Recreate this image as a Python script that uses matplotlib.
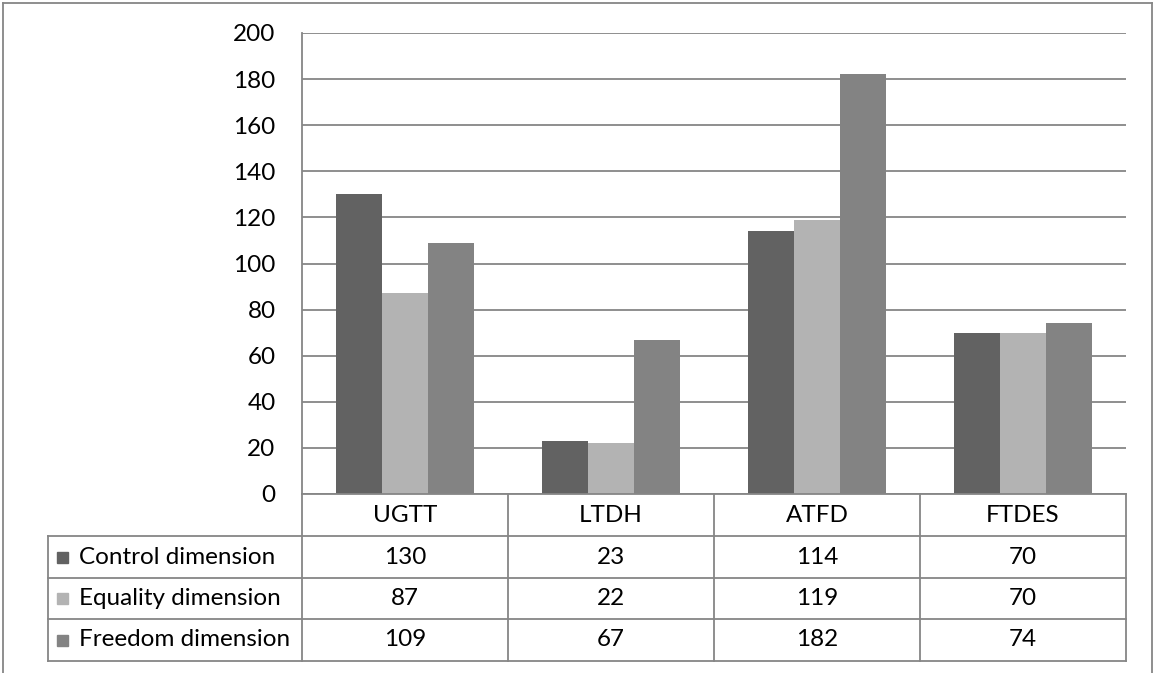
import matplotlib.pyplot as plt
from matplotlib.lines import Line2D
from matplotlib.patches import Rectangle
import numpy as np

# Données
categories = ['UGTT', 'LTDH', 'ATFD', 'FTDES']
series = ['Control dimension', 'Equality dimension', 'Freedom dimension']
control = [130, 23, 114, 70]
equality = [87, 22, 119, 70]
freedom = [109, 67, 182, 74]
couleurs = ['#626262', '#b3b3b3', '#838383']
gris = '#868686'

plt.rcParams['font.family'] = ['Lato', 'DejaVu Sans']
taille = 17.5

W, H = 1155, 673
fig = plt.figure(figsize=(W / 100, H / 100), dpi=100)

# Zone du graphique (en pixels)
x0, x1, ytop, ybot = 302, 1126, 33, 494
ax = fig.add_axes([x0 / W, 1 - ybot / H, (x1 - x0) / W, (ybot - ytop) / H])

valeurs = [control, equality, freedom]
x = np.arange(len(categories))
largeur = 1 / 4.5
for i, (v, c) in enumerate(zip(valeurs, couleurs)):
    ax.bar(x + (i - 1) * largeur, v, largeur, color=c, zorder=3)

ax.set_xlim(-0.5, len(categories) - 0.5)
ax.set_ylim(0, 200)
ax.set_yticks(np.arange(0, 201, 20))
ax.yaxis.grid(True, color=gris, linewidth=1.3, zorder=0)
ax.set_xticks([])
ax.tick_params(axis='y', length=0, pad=19, labelsize=taille, labelcolor='black')
for s in ['top', 'right', 'bottom']:
    ax.spines[s].set_visible(False)
ax.spines['left'].set_color(gris)
ax.spines['left'].set_linewidth(1.3)


# Tableau de données dessiné à la main (coordonnées figure en pixels)
def ligne(xa, ya, xb, yb):
    fig.add_artist(Line2D([xa / W, xb / W], [1 - ya / H, 1 - yb / H],
                          color=gris, linewidth=1.3))


def texte(xp, yp, s, ha='center'):
    fig.text(xp / W, 1 - yp / H, s, ha=ha, va='center', fontsize=taille)


tab_gauche = 48
lignes_y = [494, 536, 578, 619, 661]
col_x = np.linspace(x0, x1, len(categories) + 1)

# lignes horizontales
ligne(x0, lignes_y[0], x1, lignes_y[0])
for yy in lignes_y[1:]:
    ligne(tab_gauche, yy, x1, yy)
# lignes verticales
ligne(tab_gauche, lignes_y[1], tab_gauche, lignes_y[-1])
for xx in col_x:
    ligne(xx, lignes_y[0], xx, lignes_y[-1])

for j, cat in enumerate(categories):
    texte((col_x[j] + col_x[j + 1]) / 2, (lignes_y[0] + lignes_y[1]) / 2, cat)

for i, (nom, v, c) in enumerate(zip(series, valeurs, couleurs)):
    yc = (lignes_y[i + 1] + lignes_y[i + 2]) / 2
    fig.add_artist(Rectangle((57 / W, 1 - (yc + 5.5) / H), 11 / W, 11 / H,
                             color=c, transform=fig.transFigure))
    texte(79, yc, nom, ha='left')
    for j, val in enumerate(v):
        texte((col_x[j] + col_x[j + 1]) / 2, yc, str(val))

# Cadre extérieur
ligne(3, 3, 1152, 3)
ligne(3, 3, 3, H)
ligne(1152, 3, 1152, H)

plt.savefig('out.png', dpi=100)
